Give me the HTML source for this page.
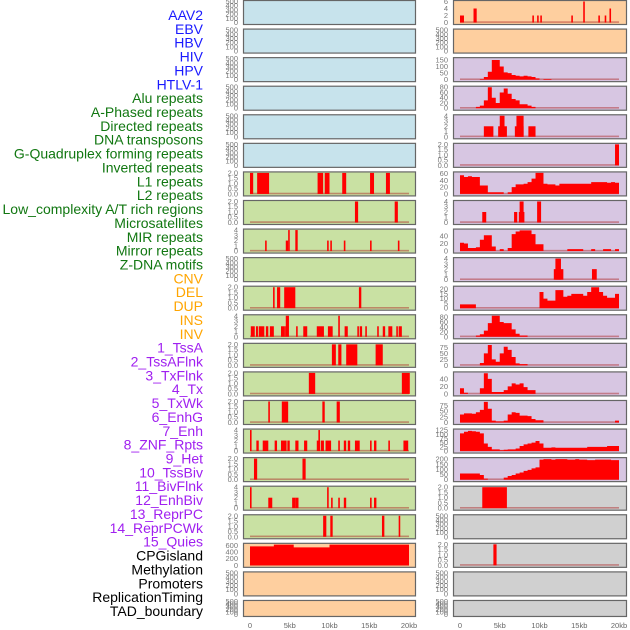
<!DOCTYPE html>
<html><head><meta charset="utf-8">
<style>
html,body{margin:0;padding:0;background:#fff;}
#wrap{position:relative;width:630px;height:630px;overflow:hidden;font-family:"Liberation Sans",sans-serif;}
</style></head>
<body>
<div id="wrap">
<svg id="chart" width="630" height="630" xmlns="http://www.w3.org/2000/svg"></svg>
</div>
<script>
// ---------- data ----------
const labelNames = ["AAV2","EBV","HBV","HIV","HPV","HTLV-1","Alu repeats","A-Phased repeats","Directed repeats","DNA transposons","G-Quadruplex forming repeats","Inverted repeats","L1 repeats","L2 repeats","Low_complexity A/T rich regions","Microsatellites","MIR repeats","Mirror repeats","Z-DNA motifs","CNV","DEL","DUP","INS","INV","1_TssA","2_TssAFlnk","3_TxFlnk","4_Tx","5_TxWk","6_EnhG","7_Enh","8_ZNF_Rpts","9_Het","10_TssBiv","11_BivFlnk","12_EnhBiv","13_ReprPC","14_ReprPCWk","15_Quies","CPGisland","Methylation","Promoters","ReplicationTiming","TAD_boundary"];
const labelGroups = ["v","v","v","v","v","v","r","r","r","r","r","r","r","r","r","r","r","r","r","s","s","s","s","s","c","c","c","c","c","c","c","c","c","c","c","c","c","c","c","k","k","k","k","k"];
const xTickLabels = ["0","5kb","10kb","15kb","20kb"];
const xTickValues = [0,5,10,15,20];
const ticks500 = [0,100,200,300,400,500];
const ticks2 = [0,0.5,1,1.5,2];
const ticks4 = [0,1,2,3,4];

// left column intervals [startKb, endKb, value]
const L7 = [[0,0.4,2],[0.9,2.4,2],[8.5,9.2,2],[9.4,10,2],[11.6,12.1,2],[15.1,15.6,2],[17.1,17.6,2]];
const L8 = [[13.2,13.6,2],[18.2,18.6,2]];
const L9 = [[1.9,2.1,2],[4.5,4.8,2],[4.8,5.0,4],[5.7,6.0,4],[9.7,9.9,2],[10.1,10.3,2],[11.8,12.0,2],[15.1,15.3,2],[18.6,18.8,2]];
const L11 = [[2.9,3.1,2],[3.4,3.8,2],[4.3,5.7,2],[13.7,14.0,2]];
const L12 = [[0.1,0.6,2],[0.75,1.0,2],[1.1,1.8,2],[2.0,2.3,2],[2.5,3.0,2],[3.9,4.3,2],[4.3,4.5,2],[4.5,4.9,4],[5.8,6.0,2],[6.7,7.2,2],[8.4,9.3,2],[9.8,10.4,2],[11.1,11.3,4],[11.9,12.3,2],[13.5,13.7,2],[13.8,14.1,2],[14.5,14.7,2],[16.0,16.2,2],[16.7,17.0,2],[17.4,17.9,2],[18.4,18.6,2],[18.7,19.1,2]];
const L13 = [[10.3,10.8,2],[11.1,11.5,2],[12.1,13.5,2],[15.8,16.7,2]];
const L14 = [[7.4,8.2,2],[19.1,20.1,2]];
const L15 = [[2.3,2.5,2],[4.0,4.8,2],[9.1,9.4,2],[10.9,11.3,2]];
const L16 = [[0,0.2,4],[0.8,1.1,2],[1.6,2.3,2],[3.1,3.4,2],[3.9,4.6,2],[4.7,5.0,2],[5.7,6.1,2],[6.8,7.2,2],[8.4,8.8,2],[8.6,8.8,4],[8.9,9.3,2],[9.5,10.2,2],[11.1,11.3,2],[11.8,12.1,2],[12.3,12.6,2],[13.2,13.8,2],[15.1,15.3,2],[15.6,15.9,2],[17.4,17.6,2],[19.3,19.9,2]];
const L17 = [[0.5,0.9,2],[6.6,7.0,2]];
const L18 = [[0,0.2,4],[2.3,2.8,2],[5.3,5.7,2],[5.7,6.1,2],[9.7,9.9,4],[10.2,10.4,2],[11.1,11.3,2],[11.8,12.1,2],[15.1,15.3,2],[15.6,15.9,2]];
const L19 = [[9.2,9.6,2],[10.1,10.4,2],[16.6,16.9,2],[18.7,18.9,2]];
// CpG coverage, 40 bins of 0.5kb
const L20 = [570,570,570,570,570,570,620,620,620,620,620,540,540,540,540,540,540,540,540,540,620,620,620,620,620,620,620,620,620,620,620,620,620,620,620,620,620,620,620,620];

// right column
const R1 = [[0,0.5,2],[1.7,2.1,4],[9.1,9.3,2],[9.7,9.9,2],[10.1,10.3,2],[14.0,14.2,2],[15.5,15.7,6],[17.4,17.6,2],[18.2,18.4,2],[18.8,19.0,4]];
const R3 = [0,0,0,0,0,5,20,60,150,150,100,55,50,35,30,25,30,25,20,10,0,5,5,0,0,0,0,0,0,0,0,0,0,0,0,0,0,0,0,0];
const R4 = [0,0,0,0,5,10,30,80,40,20,60,75,55,35,30,15,15,10,5,0,0,0,0,0,0,0,0,0,0,0,0,0,0,0,0,0,0,0,0,0];
const R5 = [[3.0,4.2,2],[4.8,5.9,2],[5.0,5.6,4],[6.9,8.0,2],[7.1,8.0,4],[8.6,9.5,2]];
const R6 = [[19.5,20.0,2]];
const R7 = [55,50,52,50,50,25,25,5,5,5,5,0,5,20,28,28,30,35,45,62,62,30,28,28,25,30,30,30,30,30,30,30,30,35,35,35,35,33,35,33];
const R8 = [[2.8,3.3,2],[6.8,7.2,2],[7.4,8.1,2],[7.5,8.0,4],[9.7,10.2,4]];
const R9 = [22,20,8,8,10,30,42,42,12,0,5,0,8,45,52,55,55,55,45,18,18,0,0,0,0,0,0,5,5,5,5,0,0,5,0,0,5,5,0,5];
const R10 = [[11.8,13.0,2],[12.0,12.7,4],[16.6,17.2,2]];
const R11 = [4,4,4,4,0,0,0,0,0,0,0,0,0,0,0,0,0,0,0,0,17,10,8,8,19,19,12,13,15,15,15,13,17,22,22,17,13,11,11,15];
const R12 = [0,0,0,0,5,10,25,55,85,85,60,55,55,30,12,5,5,0,0,0,0,0,0,0,0,0,0,0,0,0,0,0,0,0,0,0,0,0,0,0];
const R13 = [0,0,0,0,0,10,50,85,25,15,50,78,65,35,8,5,5,0,0,0,0,0,0,0,0,0,0,0,0,0,0,0,0,0,0,0,0,0,0,0];
const R14 = [15,3,0,0,0,15,55,40,5,5,5,10,20,28,25,28,18,10,10,0,0,0,0,0,0,0,0,0,0,0,0,0,0,0,0,0,0,0,0,0];
const R15 = [35,40,40,38,45,55,90,60,8,5,5,8,35,45,42,30,30,28,15,10,10,0,0,0,0,0,0,0,0,0,0,0,0,0,0,0,0,0,0,8];
const R16 = [105,115,120,118,115,105,45,25,10,10,5,8,10,10,15,30,40,45,50,60,45,20,20,22,20,20,20,20,20,20,20,20,25,25,25,25,25,30,30,30];
const R17 = [60,60,60,60,60,45,10,0,0,0,0,20,35,45,60,70,85,95,110,120,195,200,200,195,200,200,200,195,195,200,195,195,190,190,195,195,195,195,190,190];
const R18 = [[2.8,5.9,2]];
const R20 = [[4.2,4.6,2]];

// ---------- layout ----------
const svg = document.getElementById('chart');
const NS = 'http://www.w3.org/2000/svg';
const BG = {blue:'#c7e3ec', green:'#c9e1a3', orange:'#fecf9f', purple:'#d7c6e2', gray:'#d0d0d0'};
const COLS = [{x0:243,x1:416,d0:250,d1:409,tx:238},{x0:453,x1:627,d0:460,d1:619,tx:448}];
function xScale(col,kb){const c=COLS[col];return c.d0+(c.d1-c.d0)*kb/20;}
function rowTop(i){return i*28.57;}
function rowH(i){return i===21?17:25;}
function yScale(i,max,v){const t=rowTop(i)+1.5,b=rowTop(i)+rowH(i)-2.5;return b-(b-t)*v/max;}

function el(tag,attrs){const e=document.createElementNS(NS,tag);for(const k in attrs)e.setAttribute(k,attrs[k]);return e;}

const panels = [
 {c:0,bg:'blue',max:500,ticks:ticks500},{c:0,bg:'blue',max:500,ticks:ticks500},{c:0,bg:'blue',max:500,ticks:ticks500},
 {c:0,bg:'blue',max:500,ticks:ticks500},{c:0,bg:'blue',max:500,ticks:ticks500},{c:0,bg:'blue',max:500,ticks:ticks500},
 {c:0,bg:'green',max:2,ticks:ticks2,iv:L7},{c:0,bg:'green',max:2,ticks:ticks2,iv:L8},{c:0,bg:'green',max:4,ticks:ticks4,iv:L9},
 {c:0,bg:'green',max:500,ticks:ticks500},{c:0,bg:'green',max:2,ticks:ticks2,iv:L11},{c:0,bg:'green',max:4,ticks:ticks4,iv:L12},
 {c:0,bg:'green',max:2,ticks:ticks2,iv:L13},{c:0,bg:'green',max:2,ticks:ticks2,iv:L14},{c:0,bg:'green',max:2,ticks:ticks2,iv:L15},
 {c:0,bg:'green',max:4,ticks:ticks4,iv:L16},{c:0,bg:'green',max:2,ticks:ticks2,iv:L17},{c:0,bg:'green',max:4,ticks:ticks4,iv:L18},
 {c:0,bg:'green',max:2,ticks:ticks2,iv:L19},{c:0,bg:'orange',max:630,ticks:[0,200,400,600],bins:L20},
 {c:0,bg:'orange',max:500,ticks:ticks500},{c:0,bg:'orange',max:500,ticks:ticks500},
 {c:1,bg:'orange',max:6,ticks:[0,2,4,6],iv:R1},{c:1,bg:'orange',max:500,ticks:ticks500},
 {c:1,bg:'purple',max:160,ticks:[0,50,100,150],bins:R3},{c:1,bg:'purple',max:80,ticks:[0,20,40,60,80],bins:R4},
 {c:1,bg:'purple',max:4,ticks:ticks4,iv:R5},{c:1,bg:'purple',max:2,ticks:ticks2,iv:R6},
 {c:1,bg:'purple',max:62,ticks:[0,20,40,60],bins:R7},{c:1,bg:'purple',max:4,ticks:ticks4,iv:R8},
 {c:1,bg:'purple',max:56,ticks:[0,20,40],bins:R9},{c:1,bg:'purple',max:4,ticks:ticks4,iv:R10},
 {c:1,bg:'purple',max:22,ticks:[0,5,10,15,20],bins:R11},{c:1,bg:'purple',max:85,ticks:[0,20,40,60,80],bins:R12},
 {c:1,bg:'purple',max:88,ticks:[0,25,50,75],bins:R13},{c:1,bg:'purple',max:56,ticks:[0,20,40],bins:R14},
 {c:1,bg:'purple',max:92,ticks:[0,25,50,75],bins:R15},{c:1,bg:'purple',max:125,ticks:[0,25,50,75,100,125],bins:R16},
 {c:1,bg:'purple',max:205,ticks:[0,50,100,150,200],bins:R17},{c:1,bg:'gray',max:2,ticks:ticks2,iv:R18},
 {c:1,bg:'gray',max:500,ticks:ticks500},{c:1,bg:'gray',max:2,ticks:ticks2,iv:R20},
 {c:1,bg:'gray',max:500,ticks:ticks500},{c:1,bg:'gray',max:500,ticks:ticks500}
];

const GCOL = {v:'#1a1aff',r:'#117711',s:'#ffa500',c:'#a020f0',k:'#000000'};
labelNames.forEach((n,i)=>{
  const t = el('text',{x:203,y:20+i*13.86,'text-anchor':'end','font-size':'14','fill':GCOL[labelGroups[i]],'font-family':'Liberation Sans, sans-serif'});
  
  
  t.textContent = n;
  svg.appendChild(t);
});

panels.forEach((p,k)=>{
  const i = p.c===0 ? k : k-22;
  const c = COLS[p.c];
  const g = el('g',{});
  
  
  const top=rowTop(i), h=rowH(i);
  const bg = el('rect',{x:c.x0+0.5,y:top+0.5,width:c.x1-c.x0-1,height:h-1,fill:BG[p.bg],stroke:'#666','stroke-width':1.2});
  
  
  g.appendChild(bg);
  p.ticks.forEach(v=>{
    const lab = el('text',{x:c.tx,y:yScale(i,p.max,v)+2.5,'text-anchor':'end','font-size':'7.5','fill':'#777','font-family':'Liberation Sans, sans-serif'});
    
    
    lab.textContent = (p.ticks===ticks2) ? v.toFixed(1) : String(v);
    g.appendChild(lab);
  });
  const hasData = p.iv || p.bins;
  if (hasData) {
    const base = el('rect',{x:xScale(p.c,0),y:yScale(i,p.max,0)-1.2,width:xScale(p.c,20)-xScale(p.c,0),height:1.6,fill:'rgba(170,30,30,0.45)'});
    
    
    g.appendChild(base);
  }
  if (p.iv) {
    p.iv.forEach(d=>{
      const x0=xScale(p.c,d[0]), x1=xScale(p.c,d[1]);
      const y=yScale(i,p.max,d[2]), y0=yScale(i,p.max,0);
      const r = el('rect',{x:x0,y:y,width:Math.max(1.2,x1-x0),height:y0-y,fill:'#ff0000'});
      
      
      g.appendChild(r);
    });
  }
  if (p.bins) {
    const n=p.bins.length, w=20/n;
    let dstr = 'M'+xScale(p.c,0)+','+yScale(i,p.max,0);
    p.bins.forEach((v,j)=>{
      dstr += ' L'+xScale(p.c,j*w)+','+yScale(i,p.max,v)+' L'+xScale(p.c,(j+1)*w)+','+yScale(i,p.max,v);
    });
    dstr += ' L'+xScale(p.c,20)+','+yScale(i,p.max,0)+' Z';
    const a = el('path',{d:dstr,fill:'#ff0000'});
    
    
    g.appendChild(a);
  }
  svg.appendChild(g);
});

[0,1].forEach(col=>{
  xTickLabels.forEach((lab,j)=>{
    const t = el('text',{x:xScale(col,xTickValues[j]),y:628,'text-anchor':'middle','font-size':'7.5','fill':'#666','font-family':'Liberation Sans, sans-serif'});
    
    
    t.textContent = lab;
    svg.appendChild(t);
  });
});
</script>
</body></html>
